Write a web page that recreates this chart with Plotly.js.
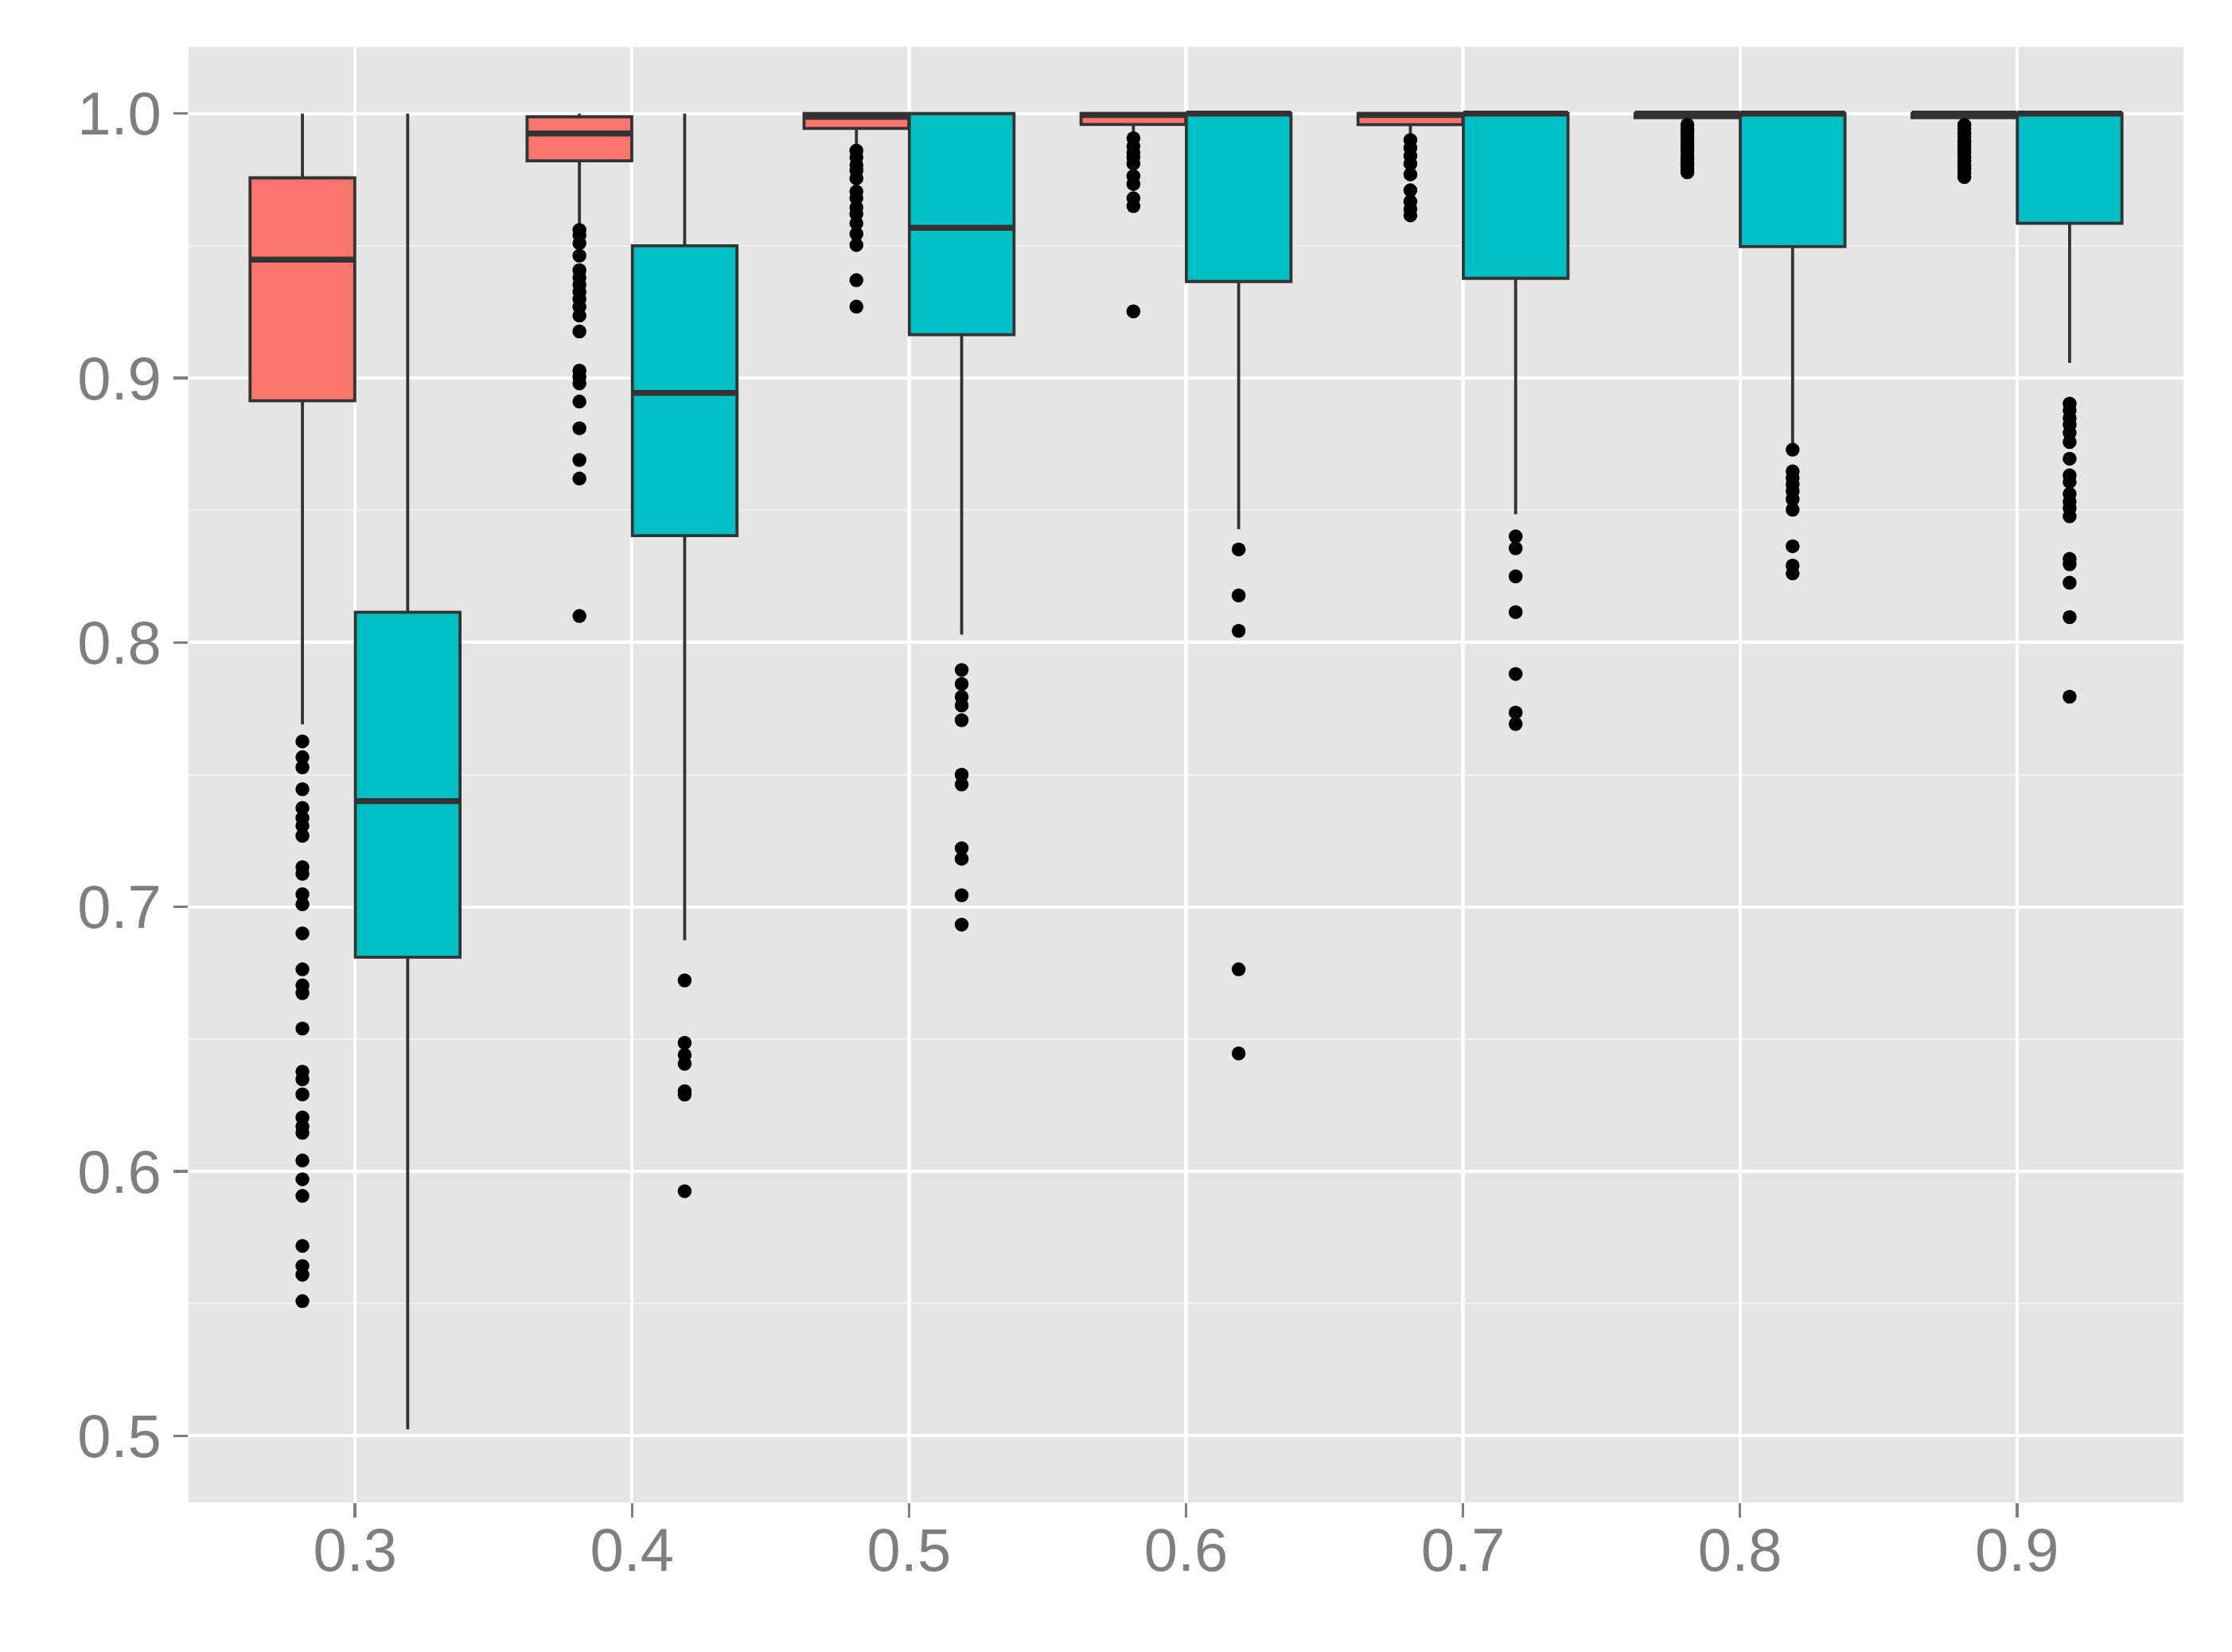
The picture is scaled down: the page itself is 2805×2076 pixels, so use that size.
<!DOCTYPE html>
<html>
<head>
<meta charset="utf-8">
<script src="https://cdn.plot.ly/plotly-3.0.1.min.js"></script>
<style>
  html, body { margin: 0; padding: 0; background: #ffffff; }
  #chart { width: 2805px; height: 2076px; }
</style>
</head>
<body>
<div id="chart"></div>
<script>
// categories on the x axis
const xVals = [0.3, 0.4, 0.5, 0.6, 0.7, 0.8, 0.9];
const xLabels = ['0.3', '0.4', '0.5', '0.6', '0.7', '0.8', '0.9'];

// red group box stats
const redQ1  = [0.8914, 0.9821, 0.9944, 0.9959, 0.9958, 0.9985, 0.9985];
const redMed = [0.9448, 0.9925, 0.9988, 0.9995, 0.9995, 1.0000, 1.0000];
const redQ3  = [0.9757, 0.9988, 1.0000, 1.0000, 1.0000, 1.0000, 1.0000];
const redLo  = [0.7690, 0.9577, 0.9868, 0.9897, 0.9907, 0.9962, 0.9960];
const redHi  = [1.0000, 1.0000, 1.0000, 1.0000, 1.0000, 1.0000, 1.0000];

// teal group box stats
const tealQ1  = [0.6810, 0.8404, 0.9164, 0.9365, 0.9377, 0.9497, 0.9585];
const tealMed = [0.7400, 0.8944, 0.9568, 1.0000, 1.0000, 1.0000, 1.0000];
const tealQ3  = [0.8114, 0.9500, 1.0000, 1.0000, 1.0000, 1.0000, 1.0000];
const tealLo  = [0.5024, 0.6874, 0.8030, 0.8428, 0.8485, 0.8752, 0.9057];
const tealHi  = [1.0000, 1.0000, 1.0000, 1.0000, 1.0000, 1.0000, 1.0000];

// outliers, one list per category
const redOut = [
  [0.7626, 0.7566, 0.7528, 0.7445, 0.7374, 0.7336, 0.7307, 0.7269, 0.7150, 0.7125,
   0.7048, 0.7010, 0.6900, 0.6764, 0.6703, 0.6674, 0.6540, 0.6377, 0.6348, 0.6291,
   0.6204, 0.6170, 0.6146, 0.6041, 0.5970, 0.5907, 0.5718, 0.5642, 0.5609, 0.5509],
  [0.9560, 0.9540, 0.9510, 0.9463, 0.9408, 0.9380, 0.9353, 0.9325, 0.9298, 0.9270,
   0.9236, 0.9176, 0.9028, 0.9005, 0.8980, 0.8911, 0.8810, 0.8690, 0.8620, 0.8100],
  [0.9860, 0.9835, 0.9805, 0.9785, 0.9755, 0.9705, 0.9680, 0.9645, 0.9620, 0.9585,
   0.9545, 0.9503, 0.9370, 0.9270],
  [0.9907, 0.9877, 0.9853, 0.9835, 0.9811, 0.9764, 0.9734, 0.9680, 0.9650, 0.9252],
  [0.9900, 0.9870, 0.9840, 0.9810, 0.9770, 0.9710, 0.9668, 0.9639, 0.9615],
  [0.9958, 0.9941, 0.9930, 0.9912, 0.9898, 0.9885, 0.9870, 0.9858, 0.9841, 0.9827,
   0.9812, 0.9801, 0.9789, 0.9778],
  [0.9957, 0.9943, 0.9926, 0.9914, 0.9896, 0.9882, 0.9867, 0.9852, 0.9838, 0.9821,
   0.9806, 0.9792, 0.9776, 0.9760]
];
const tealOut = [
  [],
  [0.6722, 0.6486, 0.6440, 0.6407, 0.6303, 0.6290, 0.5925],
  [0.7896, 0.7843, 0.7794, 0.7762, 0.7706, 0.7500, 0.7463, 0.7222, 0.7182, 0.7044, 0.6933],
  [0.8352, 0.8178, 0.8044, 0.6764, 0.6446],
  [0.8401, 0.8356, 0.8250, 0.8115, 0.7881, 0.7735, 0.7692],
  [0.8729, 0.8647, 0.8622, 0.8597, 0.8572, 0.8542, 0.8502, 0.8364, 0.8291, 0.8261],
  [0.8903, 0.8878, 0.8848, 0.8823, 0.8793, 0.8758, 0.8695, 0.8632, 0.8607, 0.8562,
   0.8532, 0.8507, 0.8477, 0.8316, 0.8296, 0.8226, 0.8096, 0.7795]
];

const RED = '#F8766D';
const TEAL = '#00BFC4';
const EDGE = '#333333';
const dodge = 0.019;   // half of the dodge width
const boxW = 0.0378;

function boxTrace(shift, q1, med, q3, lo, hi, fill) {
  return {
    type: 'box',
    x: xVals.map(v => v + shift),
    q1: q1, median: med, q3: q3, lowerfence: lo, upperfence: hi,
    width: boxW,
    fillcolor: fill,
    line: { color: EDGE, width: 3.8 },
    whiskerwidth: 0,
    boxpoints: false,
    hoverinfo: 'skip',
    showlegend: false
  };
}

// thick median bars drawn as flat boxes on top
function medianTrace(shift, med) {
  return {
    type: 'box',
    x: xVals.map(v => v + shift),
    q1: med, median: med, q3: med, lowerfence: med, upperfence: med,
    width: boxW,
    fillcolor: 'rgba(0,0,0,0)',
    line: { color: EDGE, width: 7.5 },
    whiskerwidth: 0,
    boxpoints: false,
    hoverinfo: 'skip',
    showlegend: false
  };
}

function outlierTrace(shift, outs) {
  const xs = [], ys = [];
  outs.forEach((list, i) => {
    list.forEach(v => { xs.push(xVals[i] + shift); ys.push(v); });
  });
  return {
    type: 'scatter',
    mode: 'markers',
    x: xs, y: ys,
    marker: { color: '#000000', size: 17.5 },
    hoverinfo: 'skip',
    showlegend: false
  };
}

const data = [
  boxTrace(-dodge, redQ1, redMed, redQ3, redLo, redHi, RED),
  boxTrace(dodge, tealQ1, tealMed, tealQ3, tealLo, tealHi, TEAL),
  medianTrace(-dodge, redMed),
  medianTrace(dodge, tealMed),
  outlierTrace(-dodge, redOut),
  outlierTrace(dodge, tealOut)
];

const tickFont = { family: 'Liberation Sans, Arial, sans-serif', size: 76, color: '#7F7F7F' };

const layout = {
  width: 2805,
  height: 2076,
  margin: { l: 237, r: 61, t: 59, b: 188 },
  paper_bgcolor: '#FFFFFF',
  plot_bgcolor: '#E5E5E5',
  showlegend: false,
  boxmode: 'overlay',
  xaxis: {
    range: [0.2399, 0.9601],
    tickmode: 'array',
    tickvals: xVals,
    ticktext: xLabels,
    showgrid: true,
    gridcolor: '#FFFFFF',
    gridwidth: 4.3,
    zeroline: false,
    showline: false,
    ticks: 'outside',
    ticklen: 18,
    tickwidth: 3.5,
    tickcolor: '#7F7F7F',
    ticklabelstandoff: -24,
    tickfont: tickFont
  },
  yaxis: {
    range: [0.4748, 1.0252],
    tickmode: 'array',
    tickvals: [0.5, 0.6, 0.7, 0.8, 0.9, 1.0],
    ticktext: ['0.5', '0.6', '0.7', '0.8', '0.9', '1.0'],
    showgrid: true,
    gridcolor: '#FFFFFF',
    gridwidth: 4.3,
    minor: {
      tickmode: 'array',
      tickvals: [0.55, 0.65, 0.75, 0.85, 0.95],
      showgrid: true,
      gridcolor: '#F2F2F2',
      gridwidth: 2,
      ticks: ''
    },
    zeroline: false,
    showline: false,
    ticks: 'outside',
    ticklen: 18,
    tickwidth: 3.5,
    tickcolor: '#7F7F7F',
    tickfont: tickFont
  }
};

Plotly.newPlot('chart', data, layout, { staticPlot: true });
</script>
</body>
</html>
